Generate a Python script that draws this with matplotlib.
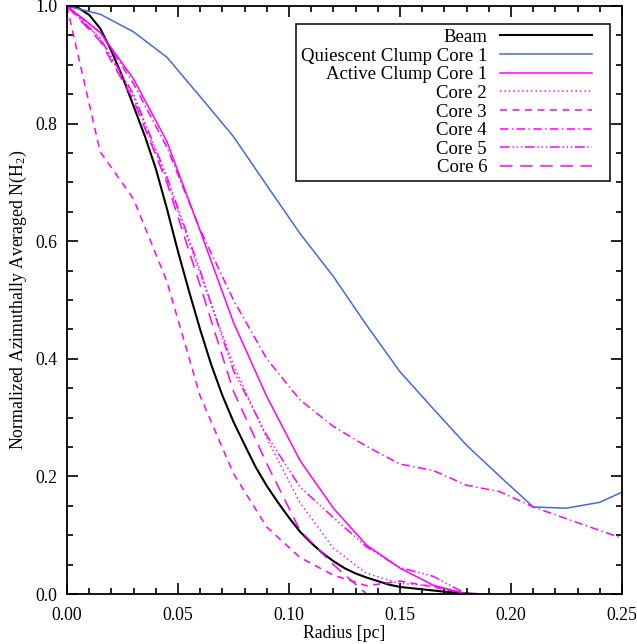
import matplotlib
matplotlib.use("Agg")
import matplotlib.pyplot as plt
from matplotlib.ticker import MultipleLocator

plt.rcParams['font.family'] = ['Liberation Serif', 'DejaVu Serif']
plt.rcParams['mathtext.fontset'] = 'custom'
plt.rcParams['mathtext.rm'] = 'Liberation Serif'
plt.rcParams['mathtext.it'] = 'Liberation Serif:italic'
plt.rcParams['lines.scale_dashes'] = False

# ---- data ----
radius = [0.000, 0.015, 0.030, 0.045, 0.060, 0.075, 0.090, 0.105, 0.120,
          0.135, 0.150, 0.165, 0.180, 0.195, 0.210, 0.225, 0.240, 0.255]

beam_r = [0.000, 0.005, 0.010, 0.015, 0.020, 0.025, 0.030, 0.035, 0.040, 0.045,
          0.050, 0.055, 0.060, 0.065, 0.070, 0.075, 0.080, 0.085, 0.090, 0.095,
          0.100, 0.105, 0.110, 0.115, 0.120, 0.125, 0.130, 0.135, 0.140, 0.145,
          0.150, 0.155, 0.160, 0.165, 0.170, 0.175, 0.180, 0.185]
beam = [1.000, 0.997, 0.985, 0.962, 0.924, 0.880, 0.830, 0.780, 0.724, 0.656,
        0.583, 0.515, 0.450, 0.390, 0.338, 0.293, 0.254, 0.216, 0.184, 0.156,
        0.130, 0.106, 0.087, 0.070, 0.056, 0.044, 0.035, 0.028, 0.022, 0.016,
        0.012, 0.010, 0.008, 0.006, 0.004, 0.003, 0.001, 0.000]

quiescent_core1 = [1.000, 0.986, 0.956, 0.913, 0.846, 0.778, 0.695, 0.613, 0.540,
                   0.457, 0.378, 0.315, 0.253, 0.200, 0.148, 0.146, 0.156, 0.182]

active_r = radius[:13]
active_core1 = [1.000, 0.955, 0.876, 0.770, 0.618, 0.462, 0.336, 0.227, 0.146,
                0.083, 0.044, 0.015, 0.000]
core2 = [1.000, 0.945, 0.845, 0.705, 0.545, 0.390, 0.265, 0.155, 0.078,
         0.035, 0.018, 0.014, 0.000]
core3 = [1.000, 0.752, 0.672, 0.532, 0.337, 0.205, 0.114, 0.062, 0.032,
         0.014, 0.022, 0.012, 0.000]
core4 = [1.000, 0.955, 0.868, 0.760, 0.620, 0.500, 0.400, 0.330, 0.285,
         0.251, 0.221, 0.210, 0.185, 0.174, 0.148, 0.128, 0.108, 0.088]
core5 = [1.000, 0.945, 0.850, 0.710, 0.550, 0.380, 0.270, 0.182, 0.130,
         0.080, 0.045, 0.030, 0.000]
core6 = [1.000, 0.940, 0.840, 0.700, 0.525, 0.345, 0.222, 0.108, 0.050,
         0.000, 0.000, 0.000, 0.000]

labels = ["Beam", "Quiescent Clump Core 1", "Active Clump Core 1",
          "Core 2", "Core 3", "Core 4", "Core 5", "Core 6"]

# ---- figure ----
fig = plt.figure(figsize=(6.37, 6.44), dpi=100)
ax = fig.add_axes([0.105, 0.0776, 0.8715, 0.9131])

mag = '#ff00ff'
blue = '#4169e1'
lw = 1.1

ax.plot(beam_r, beam, color='black', lw=1.5, label=labels[0])
ax.plot(radius, quiescent_core1, color=blue, lw=lw, label=labels[1])
ax.plot(active_r, active_core1, color=mag, lw=lw, label=labels[2])
ax.plot(active_r, core2, color=mag, lw=lw, dashes=(1, 2.2), label=labels[3])
ax.plot(active_r, core3, color=mag, lw=lw, dashes=(5, 4), label=labels[4])
ax.plot(radius, core4, color=mag, lw=lw, dashes=(6, 2.5, 1, 2.5), label=labels[5])
ax.plot(active_r, core5, color=mag, lw=lw, dashes=(7, 2, 1, 2, 1, 2, 1, 2), label=labels[6])
ax.plot(active_r, core6, color=mag, lw=lw, dashes=(9, 5.5), label=labels[7])

ax.set_xlim(0, 0.25)
ax.set_ylim(0, 1.0)
ax.xaxis.set_major_locator(MultipleLocator(0.05))
ax.xaxis.set_minor_locator(MultipleLocator(0.01))
ax.yaxis.set_major_locator(MultipleLocator(0.2))
ax.yaxis.set_minor_locator(MultipleLocator(0.05))
ax.xaxis.set_major_formatter(plt.FormatStrFormatter('%.2f'))
ax.yaxis.set_major_formatter(plt.FormatStrFormatter('%.1f'))
ax.tick_params(which='both', direction='in', top=True, right=True,
               width=1.2, labelsize=12.8, colors='black')
ax.tick_params(axis='x', which='major', length=8, pad=9)
ax.tick_params(axis='y', which='major', length=8, pad=7)
ax.tick_params(which='minor', length=4.5)
for s in ax.spines.values():
    s.set_linewidth(1.3)

ax.set_xlabel('Radius [pc]', fontsize=12.8, labelpad=1)
ax.set_ylabel('Normalized Azimuthally Averaged N(H$_{2}$)', fontsize=12.8, labelpad=4)

leg = ax.legend(loc='upper right', bbox_to_anchor=(0.978, 0.969),
                markerfirst=False, fontsize=13.5, handlelength=5.6,
                labelspacing=0.08, borderpad=0.25, handletextpad=0.7,
                fancybox=False, framealpha=1, edgecolor='black', borderaxespad=0)
leg.get_frame().set_linewidth(1.1)
for t in leg.get_texts():
    t.set_ha('right')
leg._legend_box.align = 'right'
# leave a little blank space to the right of each legend line
for ln in leg.get_lines():
    xd = list(ln.get_xdata())
    if len(xd) >= 2:
        xd[-1] = xd[-1] - 9.5
        ln.set_xdata(xd)

fig.savefig('out.png', dpi=100)
